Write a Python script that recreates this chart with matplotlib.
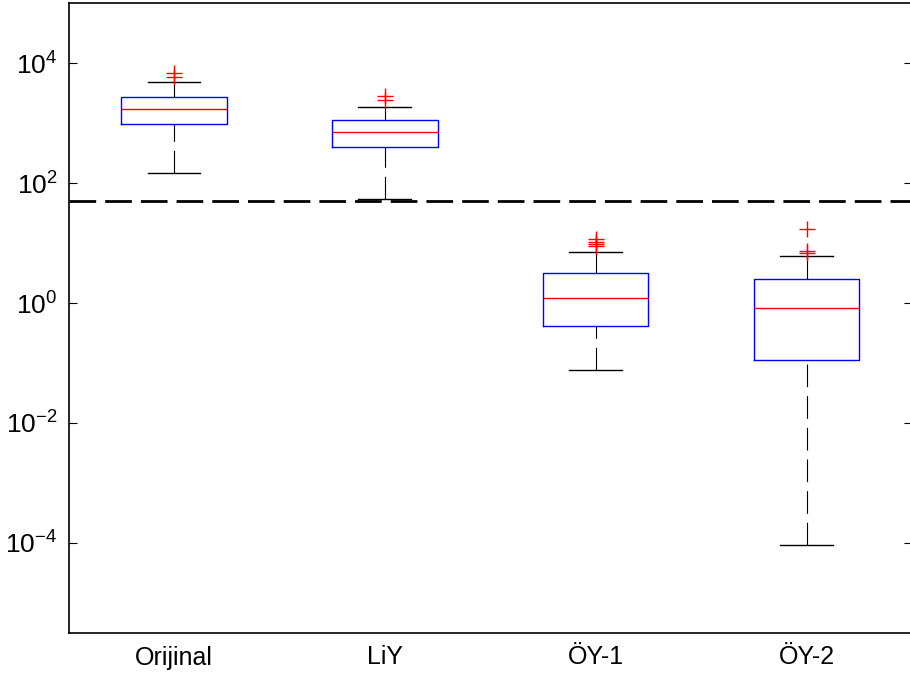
import numpy as np
import matplotlib
matplotlib.use("Agg")
import matplotlib.pyplot as plt

plt.rcParams['font.family'] = ['Liberation Sans', 'DejaVu Sans']
plt.rcParams['mathtext.fontset'] = 'custom'
plt.rcParams['mathtext.rm'] = 'Liberation Sans'
plt.rcParams['mathtext.it'] = 'Liberation Sans'

# box statistics (log scale)
labels = ["Orijinal", "LiY", "ÖY-1", "ÖY-2"]
whislo = [144.5, 54.1, 0.0764, 9.3e-5]
q1 = [977, 398, 0.409, 0.114]
med = [1734, 716, 1.197, 0.815]
q3 = [2679, 1122, 3.16, 2.51]
whishi = [4819, 1871, 7.16, 6.07]
fliers = [[6900, 5750], [2850, 2415], [11.7, 10.4, 9.6, 9.0], [16.9, 7.45, 6.9]]
threshold = 50

stats = []
for i in range(len(labels)):
    stats.append(dict(label=labels[i], whislo=whislo[i], q1=q1[i], med=med[i],
                      q3=q3[i], whishi=whishi[i], fliers=fliers[i]))

fig = plt.figure(figsize=(9.1, 6.75), dpi=100)
ax = fig.add_axes([68.5 / 910, 42 / 675, (912 - 68.5) / 910, 630 / 675])

bp = ax.bxp(stats, positions=[1, 2, 3, 4], widths=0.5, patch_artist=False,
            boxprops=dict(color='blue', linewidth=1.0),
            medianprops=dict(color='red', linewidth=1.0),
            whiskerprops=dict(color='black', linewidth=0.8, linestyle=(0, (20.4, 8.1))),
            capprops=dict(color='black', linewidth=1.0),
            flierprops=dict(marker='+', markeredgecolor='red', markersize=11,
                            markeredgewidth=1.0, linestyle='none'))

# MATLAB draws whiskers from the cap toward the box, so start the dash there
for w in bp['whiskers']:
    x, y = w.get_data()
    w.set_data(x[::-1], y[::-1])
    w.set_dash_capstyle('butt')

ax.axhline(threshold, color='black', linewidth=2, linestyle=(0, (9.6, 3.25)))

ax.set_yscale('log')
ax.set_ylim(10 ** -5.5, 10 ** 5)
ax.set_xlim(0.5, 4.5)
ax.set_yticks([1e-4, 1e-2, 1, 1e2, 1e4])
ax.set_yticklabels([r'$10^{-4}$', r'$10^{-2}$', r'$10^{0}$', r'$10^{2}$', r'$10^{4}$'])
ax.minorticks_off()
ax.set_xticks([1, 2, 3, 4])
ax.set_xticklabels(labels)

ax.tick_params(axis='y', direction='in', length=6, width=0.8, right=True,
               labelsize=19, pad=8)
ax.tick_params(axis='x', length=0, labelsize=18, pad=9)
for s in ax.spines.values():
    s.set_linewidth(1.2)

fig.savefig("out.png", dpi=100)
